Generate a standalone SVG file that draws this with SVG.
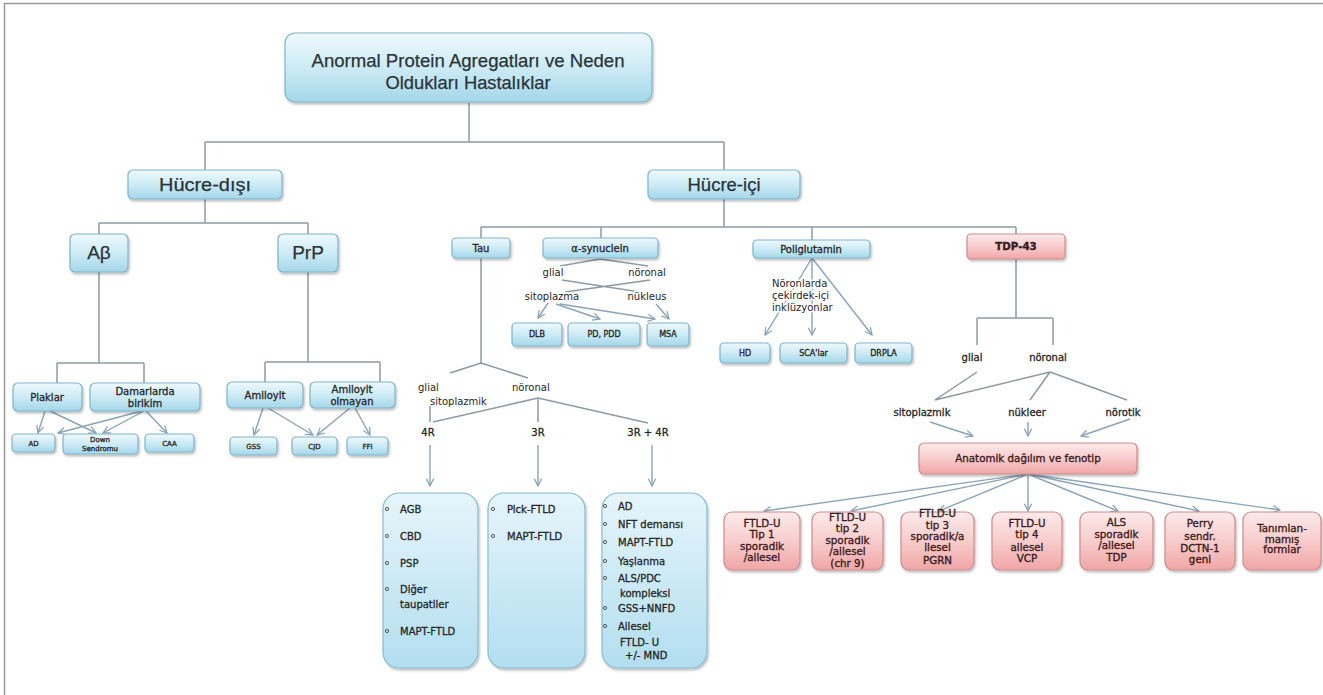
<svg xmlns="http://www.w3.org/2000/svg" width="1323" height="695" viewBox="0 0 1323 695">
<style>
.b{fill:url(#gb);stroke:#7fb3c8;stroke-width:1.2;filter:url(#sh)}
.bl{fill:url(#gbl);stroke:#86bcd0;stroke-width:1.2;filter:url(#sh)}
.p{fill:url(#gp);stroke:#cc8c8c;stroke-width:1.2;filter:url(#sh)}
.c{fill:none;stroke:#8e9aa3;stroke-width:1.5}
.a{fill:none;stroke:#8aa3b6;stroke-width:1.4;marker-end:url(#ar)}
.tb{font-family:"Liberation Sans",Arial,sans-serif;fill:#2a3438;text-anchor:middle;stroke:#2a3438;stroke-width:0.25}
.t{font-family:"DejaVu Sans",Verdana,sans-serif;fill:#262626;font-size:10px;text-anchor:middle;stroke:#262626;stroke-width:0.3}
.tl{font-family:"DejaVu Sans",Verdana,sans-serif;fill:#262626;font-size:10px;stroke:#262626;stroke-width:0.3}
.s{font-size:7px}
.m{font-size:8px}
.tp{font-family:"DejaVu Sans",Verdana,sans-serif;fill:#3a1c1c;font-size:10.3px;text-anchor:middle;stroke:#3a1c1c;stroke-width:0.35}
.h{stroke:#fff;stroke-width:3;paint-order:stroke}
.bu{fill:none;stroke:#555;stroke-width:1}
</style>
<defs>
<linearGradient id="gb" x1="0" y1="0" x2="0" y2="1"><stop offset="0" stop-color="#eef9fd"/><stop offset="0.5" stop-color="#cdebf5"/><stop offset="1" stop-color="#a4d7ea"/></linearGradient>
<linearGradient id="gbl" x1="0" y1="0" x2="0" y2="1"><stop offset="0" stop-color="#e6f5fb"/><stop offset="1" stop-color="#b2def0"/></linearGradient>
<linearGradient id="gp" x1="0" y1="0" x2="0" y2="1"><stop offset="0" stop-color="#fdeaea"/><stop offset="0.5" stop-color="#f8cccc"/><stop offset="1" stop-color="#f0a6a6"/></linearGradient>
<filter id="sh" x="-10%" y="-10%" width="130%" height="140%"><feDropShadow dx="1.2" dy="2" stdDeviation="1.3" flood-color="#000" flood-opacity="0.25"/></filter>
<marker id="ar" viewBox="0 0 10 10" refX="9" refY="5" markerWidth="9" markerHeight="9" markerUnits="userSpaceOnUse" orient="auto"><path d="M1,1 L9,5 L1,9" fill="none" stroke="#8aa3b6" stroke-width="1.4"/></marker>
</defs>
<rect x="4.5" y="3.5" width="1340" height="720" fill="#fff" stroke="#9a9a9a" stroke-width="1.5"/>

<g id="connectors">
<path class="c" d="M469,103V142M205,142H724M205,142V170M724,142V170"/>
<path class="c" d="M205,199V223M99,223H308M99,223V234M308,223V234"/>
<path class="c" d="M99,272V363M57,363H144M57,363V383M144,363V383"/>
<path class="c" d="M308,272V362M265,362H380M265,362V382M380,362V382"/>
<path class="a" d="M45,411L38,433"/>
<path class="a" d="M50,411L96,433"/>
<path class="a" d="M142,411L58,433"/>
<path class="a" d="M144,411L103,433"/>
<path class="a" d="M146,411L167,433"/>
<path class="a" d="M263,408L254,435"/>
<path class="a" d="M268,408L313,435"/>
<path class="a" d="M350,408L317,435"/>
<path class="a" d="M355,408L370,435"/>
<path class="c" d="M724,199V227M481,227H1016M481,227V238M601,227V238M812,227V240M1016,227V234"/>
<path class="c" d="M600,259L560,266M600,259L648,266M562,280L640,292M650,280L565,292"/>
<path class="a" d="M548,303L538,318"/>
<path class="a" d="M556,304L600,319"/>
<path class="a" d="M560,304L655,319"/>
<path class="a" d="M656,304L669,319"/>
<path class="a" d="M812,258L765,335"/>
<path class="a" d="M812,258L812,335"/>
<path class="a" d="M812,258L872,335"/>
<path class="c" d="M481,258V363M481,363L450,373M481,363L528,378M430,404V422M538,398L433,422M538,398V422M538,398L648,423"/>
<path class="a" d="M430,445V486"/>
<path class="a" d="M538,445V486"/>
<path class="a" d="M652,445V486"/>
<path class="c" d="M1016,259V318M977,318H1053M977,318V345M1053,318V345"/>
<path class="c" d="M977,372L935,400M1050,372L935,400M1050,372L1030,400M1050,372L1127,400"/>
<path class="a" d="M930,422L973,436"/>
<path class="a" d="M1028,422V436"/>
<path class="a" d="M1130,419L1081,436"/>
<path class="a" d="M1028,474L764,511"/>
<path class="a" d="M1028,474L851,511"/>
<path class="a" d="M1028,474L939,511"/>
<path class="a" d="M1028,474V511"/>
<path class="a" d="M1028,474L1118,511"/>
<path class="a" d="M1028,474L1199,511"/>
<path class="a" d="M1028,474L1280,510"/>
</g>

<g id="title"><rect class="b" x="285" y="33" width="367" height="69" rx="10"/>
<text class="tb" font-size="19" x="468" y="67" textLength="313" lengthAdjust="spacingAndGlyphs">Anormal Protein Agregatları ve Neden</text>
<text class="tb" font-size="19" x="468" y="89" textLength="165" lengthAdjust="spacingAndGlyphs">Oldukları Hastalıklar</text></g>

<g id="hucre-disi"><rect class="b" x="128" y="170" width="154" height="29" rx="5"/><text class="tb" font-size="19" x="205" y="191" textLength="92" lengthAdjust="spacingAndGlyphs">Hücre-dışı</text></g>
<g id="hucre-ici"><rect class="b" x="648" y="170" width="152" height="29" rx="5"/><text class="tb" font-size="19" x="724" y="191" textLength="73" lengthAdjust="spacingAndGlyphs">Hücre-içi</text></g>

<g id="abeta"><rect class="b" x="70" y="234" width="58" height="38" rx="5"/><text class="tb" font-size="19" x="99" y="259">Aβ</text></g>
<g id="prp"><rect class="b" x="278" y="234" width="60" height="38" rx="5"/><text class="tb" font-size="19" x="308" y="259">PrP</text></g>

<g id="plaklar"><rect class="b" x="13" y="383" width="69" height="28" rx="5"/><text class="t" x="47" y="401">Plaklar</text></g>
<g id="damarlarda"><rect class="b" x="90" y="383" width="110" height="28" rx="5"/><text class="t" x="145" y="395">Damarlarda</text><text class="t" x="145" y="407">birikim</text></g>
<g id="ad1"><rect class="b" x="12" y="434" width="43" height="18" rx="4"/><text class="t s" x="33.5" y="446">AD</text></g>
<g id="down"><rect class="b" x="63" y="434" width="75" height="20" rx="4"/><text class="t s" x="100" y="442">Down</text><text class="t s" x="100" y="451">Sendromu</text></g>
<g id="caa"><rect class="b" x="145" y="434" width="49" height="18" rx="4"/><text class="t s" x="169.5" y="446">CAA</text></g>

<g id="amiloyit"><rect class="b" x="227" y="382" width="76" height="26" rx="5"/><text class="t" x="265" y="399">Amiloyit</text></g>
<g id="amiloyit-olmayan"><rect class="b" x="310" y="382" width="85" height="26" rx="5"/><text class="t" x="352" y="393">Amiloyit</text><text class="t" x="352" y="405">olmayan</text></g>
<g id="gss"><rect class="b" x="230" y="437" width="47" height="18" rx="4"/><text class="t s" x="253.5" y="449">GSS</text></g>
<g id="cjd"><rect class="b" x="292" y="437" width="45" height="18" rx="4"/><text class="t s" x="314.5" y="449">CJD</text></g>
<g id="ffi"><rect class="b" x="347" y="437" width="41" height="18" rx="4"/><text class="t s" x="367.5" y="449">FFI</text></g>

<g id="tau"><rect class="b" x="452" y="238" width="58" height="20" rx="4"/><text class="t" x="481" y="252">Tau</text></g>
<g id="asyn"><rect class="b" x="543" y="238" width="115" height="20" rx="4"/><text class="t" x="600" y="252">α-synuclein</text></g>
<g id="asyn-labels">
<text class="t h" x="553" y="276">glial</text><text class="t h" x="647" y="276">nöronal</text>
<text class="t h" x="552" y="300">sitoplazma</text><text class="t h" x="647" y="300">nükleus</text></g>
<g id="dlb"><rect class="b" x="512" y="323" width="50" height="23" rx="4"/><text class="t m" x="537" y="337">DLB</text></g>
<g id="pd"><rect class="b" x="568" y="323" width="72" height="23" rx="4"/><text class="t m" x="604" y="337">PD, PDD</text></g>
<g id="msa"><rect class="b" x="647" y="323" width="42" height="23" rx="4"/><text class="t m" x="668" y="337">MSA</text></g>

<g id="poliglutamin"><rect class="b" x="753" y="240" width="117" height="18" rx="4"/><text class="t" x="811" y="253">Poliglutamin</text></g>
<g id="poli-label"><text class="tl h" x="772" y="287">Nöronlarda</text><text class="tl h" x="772" y="299">çekirdek-içi</text><text class="tl h" x="772" y="311">inklüzyonlar</text></g>
<g id="hd"><rect class="b" x="720" y="343" width="50" height="20" rx="4"/><text class="t m" x="745" y="356">HD</text></g>
<g id="sca"><rect class="b" x="780" y="343" width="67" height="20" rx="4"/><text class="t m" x="813.5" y="356">SCA'lar</text></g>
<g id="drpla"><rect class="b" x="855" y="343" width="57" height="20" rx="4"/><text class="t m" x="883.5" y="356">DRPLA</text></g>

<g id="tau-labels">
<text class="tl h" x="418" y="391">glial</text><text class="tl h" x="430" y="405">sitoplazmik</text><text class="tl h" x="512" y="391">nöronal</text>
<text class="t" x="428" y="436">4R</text><text class="t" x="538" y="436">3R</text><text class="t" x="648" y="436">3R + 4R</text></g>

<g id="box-4r"><rect class="bl" x="383" y="493" width="95" height="175" rx="16"/>
<circle class="bu" cx="387" cy="509" r="1.6"/><circle class="bu" cx="387" cy="536" r="1.6"/><circle class="bu" cx="387" cy="563" r="1.6"/><circle class="bu" cx="387" cy="589" r="1.6"/><circle class="bu" cx="387" cy="631" r="1.6"/>
<text class="tl" x="400" y="513">AGB</text><text class="tl" x="400" y="540">CBD</text><text class="tl" x="400" y="567">PSP</text><text class="tl" x="400" y="593">Diğer</text><text class="tl" x="400" y="608">taupatiler</text><text class="tl" x="400" y="635">MAPT-FTLD</text></g>
<g id="box-3r"><rect class="bl" x="488" y="493" width="97" height="175" rx="16"/>
<circle class="bu" cx="493" cy="509" r="1.6"/><circle class="bu" cx="493" cy="536" r="1.6"/>
<text class="tl" x="507" y="513">Pick-FTLD</text><text class="tl" x="507" y="540">MAPT-FTLD</text></g>
<g id="box-3r4r"><rect class="bl" x="602" y="493" width="105" height="175" rx="16"/>
<circle class="bu" cx="605" cy="506" r="1.6"/><circle class="bu" cx="605" cy="524" r="1.6"/><circle class="bu" cx="605" cy="542" r="1.6"/><circle class="bu" cx="605" cy="561" r="1.6"/><circle class="bu" cx="605" cy="578" r="1.6"/><circle class="bu" cx="605" cy="608" r="1.6"/><circle class="bu" cx="605" cy="626" r="1.6"/>
<text class="tl" x="618" y="510">AD</text><text class="tl" x="618" y="528">NFT demansı</text><text class="tl" x="618" y="546">MAPT-FTLD</text><text class="tl" x="618" y="565">Yaşlanma</text><text class="tl" x="618" y="582">ALS/PDC</text><text class="tl" x="620" y="597">kompleksi</text><text class="tl" x="618" y="612">GSS+NNFD</text><text class="tl" x="618" y="630">Ailesel</text><text class="tl" x="620" y="646">FTLD- U</text><text class="tl" x="625" y="659">+/- MND</text></g>

<g id="tdp43"><rect class="p" x="967" y="234" width="98" height="25" rx="4"/><text class="tp" font-weight="bold" x="1016" y="250">TDP-43</text></g>
<g id="tdp-labels">
<text class="t" x="972" y="361">glial</text><text class="t" x="1048" y="361">nöronal</text>
<text class="t" x="922" y="416">sitoplazmik</text><text class="t" x="1027" y="416">nükleer</text><text class="t" x="1123" y="416">nörotik</text></g>
<g id="anatomik"><rect class="p" x="919" y="443" width="218" height="31" rx="5"/><text class="tp" font-size="10.5" x="1028" y="462">Anatomik dağılım ve fenotip</text></g>

<g id="p1"><rect class="p" x="724" y="512" width="76" height="58" rx="8"/><text class="tp"><tspan x="762" y="527">FTLD-U</tspan><tspan x="762" y="538">Tip 1</tspan><tspan x="762" y="550">sporadik</tspan><tspan x="762" y="561">/ailesel</tspan></text></g>
<g id="p2"><rect class="p" x="812" y="512" width="71" height="58" rx="8"/><text class="tp"><tspan x="847.5" y="521">FTLD-U</tspan><tspan x="847.5" y="532">tip 2</tspan><tspan x="847.5" y="544">sporadik</tspan><tspan x="847.5" y="555">/ailesel</tspan><tspan x="847.5" y="567">(chr 9)</tspan></text></g>
<g id="p3"><rect class="p" x="901" y="512" width="73" height="58" rx="8"/><text class="tp"><tspan x="937.5" y="517">FTLD-U</tspan><tspan x="937.5" y="529">tip 3</tspan><tspan x="937.5" y="540">sporadik/a</tspan><tspan x="937.5" y="551">ilesel</tspan><tspan x="937.5" y="564">PGRN</tspan></text></g>
<g id="p4"><rect class="p" x="992" y="512" width="70" height="58" rx="8"/><text class="tp"><tspan x="1027" y="527">FTLD-U</tspan><tspan x="1027" y="538">tip 4</tspan><tspan x="1027" y="551">ailesel</tspan><tspan x="1027" y="562">VCP</tspan></text></g>
<g id="p5"><rect class="p" x="1080" y="512" width="73" height="58" rx="8"/><text class="tp"><tspan x="1116.5" y="526">ALS</tspan><tspan x="1116.5" y="538">sporadik</tspan><tspan x="1116.5" y="549">/ailesel</tspan><tspan x="1116.5" y="561">TDP</tspan></text></g>
<g id="p6"><rect class="p" x="1165" y="512" width="70" height="58" rx="8"/><text class="tp"><tspan x="1200" y="527">Perry</tspan><tspan x="1200" y="540">sendr.</tspan><tspan x="1200" y="552">DCTN-1</tspan><tspan x="1200" y="563">geni</tspan></text></g>
<g id="p7"><rect class="p" x="1243" y="512" width="78" height="58" rx="8"/><text class="tp" font-size="8"><tspan x="1282" y="532">Tanımlan-</tspan><tspan x="1282" y="543">mamış</tspan><tspan x="1282" y="553">formlar</tspan></text></g>
</svg>
